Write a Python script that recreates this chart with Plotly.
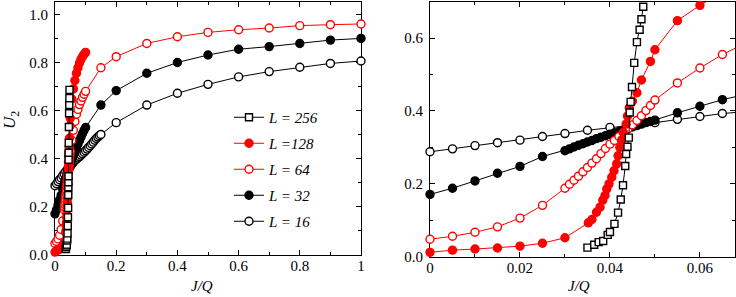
import numpy as np
import plotly.graph_objects as go

# ---------------- data ----------------
labels = ["<i>L = 16</i>", "<i>L = 32</i>", "<i>L = 64</i>", "<i>L =128</i>", "<i>L = 256</i>"]

x16 = [0, 0.005, 0.01, 0.015, 0.02, 0.025, 0.03, 0.035, 0.04, 0.045, 0.05, 0.055, 0.06, 0.065,
       0.07, 0.075, 0.08, 0.085, 0.09, 0.095, 0.1, 0.105, 0.11, 0.115, 0.12, 0.125, 0.13, 0.135,
       0.14, 0.145, 0.15, 0.2, 0.3, 0.4, 0.5, 0.6, 0.7, 0.8, 0.9, 1.0]
y16 = [0.288, 0.296, 0.305, 0.313, 0.320, 0.330, 0.338, 0.347, 0.355, 0.361, 0.368, 0.377, 0.385, 0.393,
       0.398, 0.403, 0.409, 0.415, 0.421, 0.427, 0.433, 0.440, 0.447, 0.454, 0.461, 0.469, 0.477, 0.484,
       0.490, 0.496, 0.501, 0.550, 0.623, 0.672, 0.709, 0.740, 0.762, 0.780, 0.796, 0.806]

x32 = [0, 0.005, 0.01, 0.015, 0.02, 0.025,
       0.030, 0.031, 0.032, 0.033, 0.034, 0.035, 0.036, 0.037, 0.038, 0.039, 0.040,
       0.041, 0.042, 0.043, 0.044, 0.045, 0.046, 0.047, 0.048, 0.049, 0.050,
       0.055, 0.06, 0.065, 0.07, 0.075, 0.08, 0.085, 0.09, 0.095, 0.1,
       0.15, 0.2, 0.3, 0.4, 0.5, 0.6, 0.7, 0.8, 0.9, 1.0]
y32 = [0.171, 0.188, 0.208, 0.229, 0.248, 0.275,
       0.291, 0.296, 0.301, 0.306, 0.310, 0.315, 0.319, 0.324, 0.328, 0.332, 0.336,
       0.340, 0.344, 0.348, 0.352, 0.356, 0.360, 0.364, 0.368, 0.371, 0.375,
       0.395, 0.413, 0.431, 0.445, 0.460, 0.475, 0.490, 0.505, 0.518, 0.530,
       0.623, 0.683, 0.755, 0.800, 0.831, 0.855, 0.866, 0.879, 0.893, 0.900]

x64 = [0, 0.005, 0.01, 0.015, 0.02, 0.025,
       0.030, 0.031, 0.032, 0.033, 0.034, 0.035, 0.036, 0.037, 0.038, 0.039, 0.040,
       0.041, 0.042, 0.043, 0.044, 0.045, 0.046, 0.047, 0.048, 0.049, 0.050,
       0.055, 0.06, 0.065, 0.07, 0.075, 0.08, 0.085, 0.09, 0.095, 0.1,
       0.15, 0.2, 0.3, 0.4, 0.5, 0.6, 0.7, 0.8, 0.9, 1.0]
y64 = [0.048, 0.056, 0.067, 0.082, 0.106, 0.141,
       0.188, 0.199, 0.210, 0.221, 0.233, 0.245, 0.257, 0.269, 0.283, 0.297, 0.309,
       0.319, 0.330, 0.340, 0.351, 0.362, 0.374, 0.387, 0.401, 0.415, 0.430,
       0.477, 0.518, 0.555, 0.585, 0.605, 0.625, 0.640, 0.655, 0.668, 0.680,
       0.778, 0.824, 0.879, 0.907, 0.925, 0.936, 0.943, 0.953, 0.957, 0.960]

x128 = [0, 0.005, 0.01, 0.015, 0.02, 0.025, 0.03,
        0.0352, 0.036, 0.037, 0.0378, 0.0384, 0.0389, 0.0393, 0.0398, 0.0404, 0.0409,
        0.0415, 0.0418, 0.0422, 0.0426, 0.0430, 0.0436, 0.0439, 0.0443, 0.0450, 0.0460,
        0.0470, 0.0490, 0.0500, 0.055, 0.06, 0.065, 0.07, 0.075, 0.08, 0.085, 0.09, 0.095, 0.1]
y128 = [0.012, 0.018, 0.021, 0.024, 0.029, 0.037, 0.052,
        0.093, 0.102, 0.122, 0.136, 0.155, 0.168, 0.186, 0.200, 0.218, 0.236,
        0.255, 0.277, 0.300, 0.320, 0.341, 0.364, 0.386, 0.409, 0.427, 0.450,
        0.485, 0.536, 0.568, 0.648, 0.690, 0.725, 0.755, 0.778, 0.798, 0.813, 0.825, 0.834, 0.842]

x256 = [0.0350, 0.0365, 0.0375, 0.0385, 0.0395, 0.0400, 0.0410, 0.0418, 0.0424, 0.0429, 0.0434,
        0.0436, 0.0439, 0.0442, 0.0444, 0.0446, 0.0449, 0.0454, 0.0460, 0.0466, 0.0470, 0.0474]
y256 = [0.025, 0.033, 0.040, 0.043, 0.060, 0.068, 0.090, 0.121, 0.157, 0.196, 0.249,
        0.282, 0.302, 0.327, 0.396, 0.425, 0.466, 0.532, 0.589, 0.623, 0.652, 0.686]

xs = [x16, x32, x64, x128, x256]
ys = [y16, y32, y64, y128, y256]
colors = ["black", "black", "red", "red", "black"]
filled = [False, True, False, True, False]
symbols = ["circle", "circle", "circle", "circle", "square"]

x_left_ticks = [0, 0.2, 0.4, 0.6, 0.8, 1.0]
x_left_text = ["0", "0.2", "0.4", "0.6", "0.8", "1"]
y_left_ticks = [0, 0.2, 0.4, 0.6, 0.8, 1.0]
y_left_text = ["0.0", "0.2", "0.4", "0.6", "0.8", "1.0"]
x_right_ticks = [0, 0.02, 0.04, 0.06]
x_right_text = ["0", "0.02", "0.04", "0.06"]
y_right_ticks = [0, 0.2, 0.4, 0.6]
y_right_text = ["0.0", "0.2", "0.4", "0.6"]

XR_MAX = 0.0678
YR_MAX = 0.7

# ---------------- figure ----------------
FONT = "Liberation Serif, Times New Roman, serif"
W, H = 736, 297
fig = go.Figure()

def marker_for(i):
    size = 7 if symbols[i] == "square" else 8
    return dict(symbol=symbols[i], size=size,
                color=colors[i] if filled[i] else "white",
                line=dict(color=colors[i], width=1.4))

for i in range(5):
    fig.add_trace(go.Scatter(
        x=xs[i], y=ys[i], mode="lines+markers", name=labels[i],
        line=dict(color=colors[i], width=1), marker=marker_for(i),
        cliponaxis=False, xaxis="x", yaxis="y",
        legendgroup=str(i), legendrank=10 - i, showlegend=True))

for i in range(5):
    xa = np.array(xs[i]); ya = np.array(ys[i])
    fig.add_trace(go.Scatter(
        x=xa, y=ya, mode="lines", line=dict(color=colors[i], width=1),
        xaxis="x2", yaxis="y2", showlegend=False, hoverinfo="skip"))
    m = (xa <= XR_MAX) & (ya <= YR_MAX)
    fig.add_trace(go.Scatter(
        x=xa[m], y=ya[m], mode="markers", marker=marker_for(i),
        cliponaxis=False, xaxis="x2", yaxis="y2", showlegend=False))

axis_common = dict(showline=True, linecolor="black", linewidth=1, mirror="allticks",
                   ticks="inside", ticklen=5, tickwidth=1, tickcolor="black",
                   showgrid=False, zeroline=False,
                   tickfont=dict(family=FONT, size=15, color="black"),
                   automargin=False, layer="below traces")

def minor(dt):
    return dict(tickmode="linear", tick0=0, dtick=dt, ticklen=3, ticks="inside",
                tickcolor="black", showgrid=False)

fig.update_layout(
    width=W, height=H,
    margin=dict(l=0, r=0, t=0, b=0),
    paper_bgcolor="white", plot_bgcolor="white",
    font=dict(family=FONT, size=15, color="black"),
    showlegend=True,
    legend=dict(x=229/W, y=(H-101)/H, xanchor="left", yanchor="top",
                traceorder="grouped", bgcolor="rgba(0,0,0,0)",
                font=dict(family=FONT, size=15, color="black"),
                tracegroupgap=3.5, itemwidth=30),
    xaxis=dict(domain=[55/W, 361/W], range=[0, 1], anchor="y",
               tickmode="array", tickvals=x_left_ticks, ticktext=x_left_text,
               ticklabelstandoff=-3, minor=minor(0.1), **axis_common),
    yaxis=dict(domain=[(H-255)/H, (H-2.3)/H], range=[0, 1.05], anchor="x",
               tickmode="array", tickvals=y_left_ticks, ticktext=y_left_text,
               ticklabelstandoff=3, minor=minor(0.1), **axis_common),
    xaxis2=dict(domain=[430/W, 735/W], range=[0, XR_MAX], anchor="y2",
                tickmode="array", tickvals=x_right_ticks, ticktext=x_right_text,
                ticklabelstandoff=-3, minor=minor(0.01), **axis_common),
    yaxis2=dict(domain=[(H-256.7)/H, (H-1.7)/H], range=[0, YR_MAX], anchor="x2",
                tickmode="array", tickvals=y_right_ticks, ticktext=y_right_text,
                ticklabelstandoff=3, minor=minor(0.1), **axis_common),
    annotations=[
        dict(text="<i>U</i><sub>2</sub>", xref="paper", yref="paper",
             x=11/W, y=(H-120)/H, xanchor="center", yanchor="middle",
             textangle=-90, showarrow=False,
             font=dict(family=FONT, size=17, color="black")),
        dict(text="<i>J/Q</i>", xref="paper", yref="paper",
             x=202/W, y=(H-286)/H, xanchor="center", yanchor="middle", showarrow=False,
             font=dict(family=FONT, size=15, color="black")),
        dict(text="<i>J/Q</i>", xref="paper", yref="paper",
             x=579/W, y=(H-286)/H, xanchor="center", yanchor="middle", showarrow=False,
             font=dict(family=FONT, size=15, color="black")),
    ],
)

fig.write_html("out.html", config={"displayModeBar": False},
               post_script="document.body.style.margin='0';document.body.style.overflow='hidden';")
